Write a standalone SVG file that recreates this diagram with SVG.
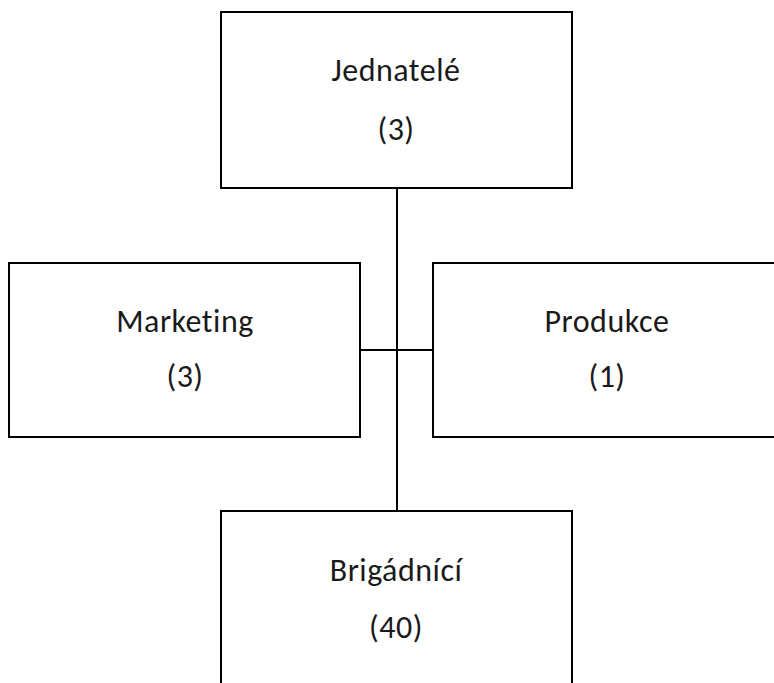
<svg xmlns="http://www.w3.org/2000/svg" width="774" height="683" viewBox="0 0 774 683">
<style>
.box{fill:#fff;stroke:#000;stroke-width:2}
.lbl{font-family:Carlito,"Open Sans","Liberation Sans",sans-serif;font-size:32px;fill:#1a1a1a;text-anchor:middle;letter-spacing:0.5px}
.con{stroke:#000;stroke-width:2;fill:none}
</style>
<rect width="774" height="683" fill="#fff"/>
<g id="connectors">
<line class="con" x1="397" y1="188" x2="397" y2="511"/>
<line class="con" x1="360" y1="350" x2="433" y2="350"/>
</g>
<g id="jednatele">
<rect class="box" x="221" y="12" width="351" height="176"/>
<text class="lbl" x="396" y="81">Jednatelé</text>
<text class="lbl" x="396" y="140">(3)</text>
</g>
<g id="marketing">
<rect class="box" x="9" y="263" width="351" height="174"/>
<text class="lbl" x="185" y="332">Marketing</text>
<text class="lbl" x="185" y="387">(3)</text>
</g>
<g id="produkce">
<rect class="box" x="433" y="263" width="351" height="174"/>
<text class="lbl" x="607" y="332">Produkce</text>
<text class="lbl" x="607" y="387">(1)</text>
</g>
<g id="brigadnici">
<rect class="box" x="221" y="511" width="351" height="180"/>
<text class="lbl" x="396" y="581">Brigádnící</text>
<text class="lbl" x="396" y="638">(40)</text>
</g>
</svg>
